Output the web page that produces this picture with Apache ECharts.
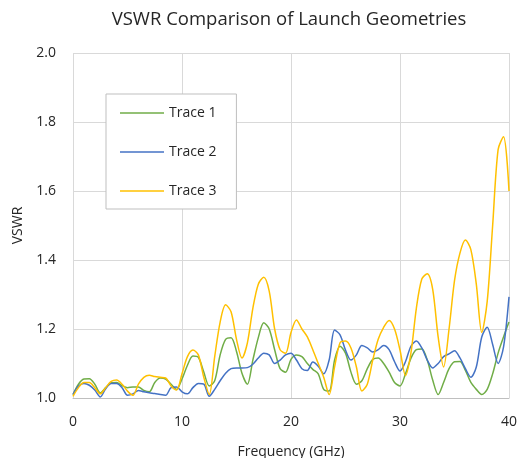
<!DOCTYPE html>
<html>
<head>
<meta charset="utf-8">
<script src="https://cdn.jsdelivr.net/npm/echarts@6/dist/echarts.min.js"></script>
<style>
html,body{margin:0;padding:0;background:#fff;}
#chart{width:519px;height:458px;}
</style>
</head>
<body>
<div id="chart"></div>
<script>
var freq = [];
for (var i = 0; i <= 80; i++) freq.push(i * 0.5);

var trace1 = [1.01,1.04,1.055,1.056,1.04,1.015,1.03,1.044,1.045,1.036,
1.03,1.032,1.032,1.022,1.018,1.045,1.058,1.055,1.04,1.025,
1.055,1.095,1.122,1.118,1.075,1.035,1.05,1.125,1.17,1.175,
1.135,1.072,1.04,1.11,1.175,1.218,1.2,1.14,1.085,1.075,
1.112,1.125,1.12,1.1,1.083,1.07,1.025,1.02,1.11,1.15,
1.13,1.075,1.04,1.05,1.085,1.112,1.116,1.1,1.075,1.045,
1.035,1.07,1.115,1.14,1.142,1.11,1.052,1.01,1.045,1.085,
1.105,1.106,1.08,1.045,1.025,1.01,1.025,1.07,1.13,1.177,1.22];

var trace2 = [1.01,1.035,1.042,1.037,1.023,1.003,1.027,1.042,1.042,1.03,
1.008,1.012,1.022,1.018,1.015,1.013,1.01,1.008,1.03,1.032,
1.018,1.012,1.03,1.042,1.04,1.005,1.025,1.05,1.072,1.085,
1.087,1.087,1.088,1.098,1.116,1.13,1.125,1.1,1.11,1.125,
1.13,1.11,1.085,1.08,1.104,1.092,1.07,1.11,1.197,1.183,
1.139,1.11,1.125,1.152,1.145,1.133,1.14,1.152,1.14,1.105,
1.078,1.105,1.15,1.165,1.145,1.11,1.087,1.1,1.12,1.128,
1.137,1.116,1.085,1.06,1.09,1.177,1.205,1.155,1.1,1.148,1.293];

var trace3 = [1.005,1.03,1.045,1.045,1.03,1.012,1.03,1.048,1.052,1.04,
1.02,1.008,1.04,1.06,1.066,1.062,1.06,1.058,1.035,1.023,
1.07,1.12,1.139,1.125,1.06,1.01,1.12,1.22,1.27,1.25,
1.17,1.116,1.16,1.26,1.33,1.35,1.31,1.2,1.14,1.13,
1.19,1.226,1.2,1.177,1.14,1.1,1.06,1.01,1.09,1.16,
1.165,1.145,1.09,1.02,1.04,1.11,1.17,1.205,1.225,1.2,
1.139,1.065,1.13,1.26,1.345,1.36,1.315,1.177,1.09,1.2,
1.34,1.42,1.458,1.43,1.33,1.19,1.28,1.5,1.72,1.757,1.6];

var seriesNames = ['Trace 1', 'Trace 2', 'Trace 3'];

function pairs(arr) {
  return arr.map(function (v, i) { return [freq[i], v]; });
}

var FONT = '"Open Sans", sans-serif';
var LEGEND_ICON = 'path://M0,0 M44,14 M0,6.25 L44,6.25 L44,7.75 L0,7.75 Z';
var chart = echarts.init(document.getElementById('chart'), null, {renderer: 'canvas'});
chart.setOption({
  animation: false,
  backgroundColor: '#ffffff',
  title: {
    text: 'VSWR Comparison of Launch Geometries',
    left: 284, top: 5, textAlign: 'center',
    textStyle: {fontFamily: FONT, fontSize: 18.5, fontWeight: 'normal', color: '#262626'}
  },
  grid: {left: 73, right: 10, top: 53, bottom: 60, containLabel: false, outerBoundsMode: 'none'},
  legend: {
    orient: 'vertical',
    left: 106, top: 94,
    padding: [12, 20, 11, 14],
    itemWidth: 44, itemHeight: 14, itemGap: 25,
    icon: LEGEND_ICON,
    borderColor: '#bfbfbf', borderWidth: 1, backgroundColor: '#ffffff',
    textStyle: {fontFamily: FONT, fontSize: 14, color: '#262626'},
    data: seriesNames
  },
  xAxis: {
    type: 'value', min: 0, max: 40, interval: 10,
    name: 'Frequency (GHz)', nameLocation: 'middle', nameGap: 47,
    nameTextStyle: {fontFamily: FONT, fontSize: 14, color: '#262626'},
    axisLine: {show: true, lineStyle: {color: '#bfbfbf', width: 1}},
    axisTick: {show: false},
    axisLabel: {fontFamily: FONT, fontSize: 14, color: '#262626', margin: 17},
    splitLine: {show: true, lineStyle: {color: '#d9d9d9', width: 1}}
  },
  yAxis: {
    type: 'value', min: 1.0, max: 2.0, interval: 0.2,
    name: 'VSWR', nameLocation: 'middle', nameGap: 46,
    nameTextStyle: {fontFamily: FONT, fontSize: 14, color: '#262626'},
    axisLine: {show: false},
    axisTick: {show: false},
    axisLabel: {fontFamily: FONT, fontSize: 14, color: '#262626', margin: 17,
      formatter: function (v) { return v.toFixed(1); }},
    splitLine: {show: true, lineStyle: {color: '#d9d9d9', width: 1}}
  },
  series: [
    {name: seriesNames[0], type: 'line', data: pairs(trace1), symbol: 'none', smooth: 0.3,
     color: '#70ad47', lineStyle: {color: '#70ad47', width: 1.5}},
    {name: seriesNames[1], type: 'line', data: pairs(trace2), symbol: 'none', smooth: 0.3,
     color: '#4472c4', lineStyle: {color: '#4472c4', width: 1.5}},
    {name: seriesNames[2], type: 'line', data: pairs(trace3), symbol: 'none', smooth: 0.3,
     color: '#ffc000', lineStyle: {color: '#ffc000', width: 1.5}}
  ]
});
</script>
</body>
</html>
